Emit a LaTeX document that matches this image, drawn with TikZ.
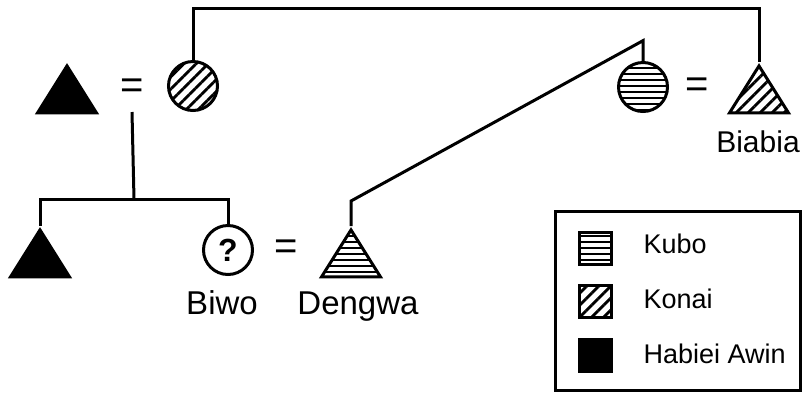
\documentclass[tikz,border=0pt]{standalone}
\usepackage{fontspec}
\setmainfont{Liberation Sans}
\usetikzlibrary{shapes.geometric, patterns.meta}

\begin{document}
\begin{tikzpicture}[x=1pt, y=-1pt, line width=3pt,
    male/.style={draw, isosceles triangle, isosceles triangle stretches, shape border rotate=90, minimum width=59pt, minimum height=47pt, inner sep=0pt, anchor=apex},
    female/.style={draw, circle, minimum size=49pt, inner sep=0pt},
    kubo/.style={pattern={Lines[angle=0, distance=6pt, line width=1.7pt]}},
    konai/.style={pattern={Lines[angle=45, distance=8.5pt, line width=2.8pt]}},
    awin/.style={fill=black},
    eq/.style={font=\fontsize{40}{40}\selectfont, inner sep=0pt},
    personname/.style={font=\fontsize{33}{36}\selectfont, anchor=base, inner sep=0pt},
    keybox/.style={draw, minimum size=32pt, inner sep=0pt},
    keytext/.style={font=\fontsize{27}{30}\selectfont, anchor=base west, inner sep=0pt}]
    \useasboundingbox (0,0) rectangle (808,392);

    % first generation
    \node[male, awin] (father) at (67,62) {};
    \node[eq] (eqA) at (132,89) {=};
    \node[female, konai] (mother) at (193,86) {};
    \node[female, kubo] (wife) at (643,87) {};
    \node[eq] (eqC) at (697,88) {=};
    \node[male, konai] (biabia) at (759,62) {};
    \node[personname, font=\fontsize{30}{34}\selectfont] (biabiaL) at (758,152) {Biabia};

    % second generation
    \node[male, awin] (son) at (40,226) {};
    \node[female, font=\bfseries\fontsize{32}{32}\selectfont] (biwo) at (228,250) {?};
    \node[eq] (eqB) at (286,250) {=};
    \node[male, kubo] (dengwa) at (351,226) {};
    \node[personname] (biwoL) at (222,314) {Biwo};
    \node[personname] (dengwaL) at (358,314) {Dengwa};

    % lines
    \coordinate (sib) at (134,199);
    \draw (mother.north) -- ++(0,-52) -| (biabia.apex);
    \draw ([yshift=-23pt]eqA.center) -- (sib);
    \draw (son.apex) |- (sib) -| (biwo.north);
    \draw (dengwa.apex) -- ++(0,-25) -- ([yshift=21pt]wife.north) -- (wife.north);

    % key
    \draw (555,211) rectangle (800,390);
    \node[keybox, kubo] (k1) at (595,248) {};
    \node[keybox, konai] (k2) at (595,301) {};
    \node[keybox, awin] (k3) at (595,355) {};
    \node[keytext] (t1) at (642,253) {Kubo};
    \node[keytext] (t2) at (642,308) {Konai};
    \node[keytext] (t3) at (642,363) {Habiei Awin};
\end{tikzpicture}
\end{document}
